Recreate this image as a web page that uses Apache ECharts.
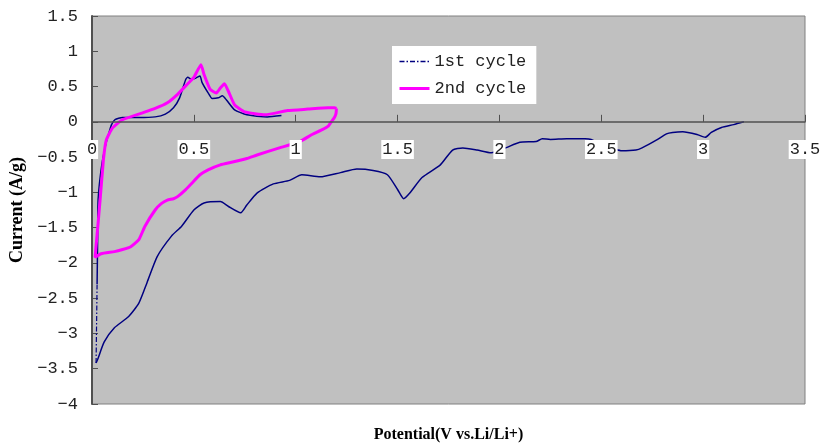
<!DOCTYPE html>
<html>
<head>
<meta charset="utf-8">
<script src="https://cdn.jsdelivr.net/npm/echarts@6/dist/echarts.min.js"></script>
<style>html,body{margin:0;padding:0;background:#fff}#c{width:820px;height:445px}</style>
</head>
<body>
<div id="c"></div>
<script>
// Potential (V) / Current (A/g) pairs
const cycle1Cathodic = [
  [3.20,0.00],[3.15,-0.04],[3.09,-0.08],[3.04,-0.15],[3.01,-0.22],[2.97,-0.18],[2.90,-0.14],[2.85,-0.15],
  [2.82,-0.17],[2.77,-0.26],[2.70,-0.37],[2.67,-0.40],[2.60,-0.41],[2.56,-0.38],[2.52,-0.35],[2.45,-0.25],
  [2.42,-0.24],[2.33,-0.24],[2.25,-0.25],[2.21,-0.24],[2.18,-0.28],[2.10,-0.29],[2.03,-0.37],[1.96,-0.44],
  [1.89,-0.40],[1.82,-0.37],[1.77,-0.40],[1.71,-0.61],[1.62,-0.79],[1.56,-1.01],[1.53,-1.09],[1.50,-0.96],
  [1.45,-0.75],[1.38,-0.69],[1.30,-0.67],[1.22,-0.72],[1.12,-0.78],[1.03,-0.75],[0.97,-0.83],[0.89,-0.88],
  [0.81,-1.01],[0.76,-1.18],[0.73,-1.29],[0.67,-1.20],[0.63,-1.13],[0.55,-1.15],[0.50,-1.25],[0.44,-1.48],
  [0.39,-1.62],[0.32,-1.91],[0.27,-2.28],[0.23,-2.57],[0.18,-2.76],[0.11,-2.92],[0.06,-3.12],[0.03,-3.35],
  [0.02,-3.42]
];
const cycle1Turn = [[0.02,-3.42],[0.025,-2.30]];
const cycle1Anodic = [
  [0.025,-2.30],[0.028,-1.60],[0.03,-1.10],[0.047,-0.63],[0.069,-0.30],[0.085,-0.14],[0.096,-0.04],
  [0.113,0.03],[0.15,0.06],[0.23,0.06],[0.31,0.07],[0.36,0.11],[0.40,0.20],[0.43,0.34],[0.46,0.60],
  [0.47,0.63],[0.49,0.60],[0.51,0.62],[0.53,0.65],[0.54,0.56],[0.57,0.41],[0.59,0.33],[0.62,0.34],
  [0.64,0.37],[0.66,0.31],[0.70,0.17],[0.76,0.10],[0.86,0.07],[0.93,0.09]
];
const cycle2 = [
  [1.20,0.19],[1.198,0.12],[1.19,0.06],[1.175,0.0],[1.16,-0.06],[1.13,-0.11],[1.08,-0.18],[1.02,-0.28],[0.92,-0.37],
  [0.81,-0.47],[0.76,-0.52],[0.69,-0.57],[0.63,-0.61],[0.57,-0.68],[0.53,-0.75],[0.49,-0.87],[0.46,-0.96],
  [0.42,-1.06],[0.40,-1.09],[0.37,-1.11],[0.34,-1.16],[0.31,-1.25],[0.26,-1.48],[0.23,-1.67],[0.19,-1.77],
  [0.15,-1.81],[0.11,-1.84],[0.045,-1.87],[0.015,-1.92],[0.025,-1.60],[0.04,-1.10],[0.056,-0.54],
  [0.07,-0.26],[0.10,-0.09],[0.15,0.03],[0.24,0.12],[0.31,0.19],[0.37,0.27],[0.42,0.39],[0.47,0.54],
  [0.50,0.63],[0.535,0.81],[0.55,0.67],[0.58,0.46],[0.61,0.41],[0.63,0.48],[0.65,0.54],[0.67,0.43],
  [0.70,0.24],[0.75,0.14],[0.85,0.10],[0.96,0.16],[1.06,0.18],[1.16,0.20],[1.19,0.20],[1.20,0.19]
];
const seriesNames = ['1st cycle', '2nd cycle'];
const xTitle = 'Potential(V vs.Li/Li+)';
const yTitle = 'Current (A/g)';

const chart = echarts.init(document.getElementById('c'), null, {renderer: 'canvas'});
const monoFont = '"Liberation Mono", monospace';
const fmt = v => String(v).replace('-', '\u2212');
const hiddenSymbol = {opacity: 0, color: 'rgba(0,0,0,0)', borderWidth: 0};
chart.setOption({
  animation: false,
  grid: {left: 92, top: 16, right: 15, bottom: 41, outerBoundsMode: 'none', containLabel: false,
         show: true, backgroundColor: '#c0c0c0', borderColor: '#808080', borderWidth: 1},
  legend: {
    left: 392, top: 46, orient: 'vertical', backgroundColor: '#fff', padding: [7, 10, 7, 6],
    itemGap: 10, itemWidth: 30, itemHeight: 14,
    textStyle: {fontFamily: monoFont, fontSize: 17, color: '#222'},
    data: [
      {name: seriesNames[0], itemStyle: hiddenSymbol, lineStyle: {color: '#000080', width: 1.5, type: [5, 2, 1.5, 2]}},
      {name: seriesNames[1], itemStyle: hiddenSymbol, lineStyle: {color: '#ff00ff', width: 3}}
    ]
  },
  xAxis: {
    type: 'value', min: 0, max: 3.5, interval: 0.5, z: 10,
    name: xTitle, nameLocation: 'middle', nameGap: 23,
    nameTextStyle: {fontFamily: '"Liberation Serif", serif', fontWeight: 'bold', fontSize: 16, color: '#000'},
    axisLine: {onZero: true, lineStyle: {color: '#505050', width: 1.5}},
    axisTick: {inside: true, length: 7, lineStyle: {color: '#505050'}},
    axisLabel: {fontFamily: monoFont, fontSize: 17, color: '#222', margin: -264, backgroundColor: '#fff', padding: [1, 1], formatter: fmt},
    splitLine: {show: false}
  },
  yAxis: {
    type: 'value', min: -4, max: 1.5, interval: 0.5,
    name: yTitle, nameLocation: 'middle', nameGap: 62,
    nameTextStyle: {fontFamily: '"Liberation Serif", serif', fontWeight: 'bold', fontSize: 18, color: '#000'},
    axisLine: {show: true, onZero: false, lineStyle: {color: '#505050', width: 2}},
    axisTick: {show: true, inside: true, length: 6, lineStyle: {color: '#505050'}},
    axisLabel: {fontFamily: monoFont, fontSize: 17, color: '#222', margin: 14, formatter: fmt},
    splitLine: {show: false}
  },
  series: [
    {name: seriesNames[0], type: 'line', data: cycle1Cathodic, symbol: 'none', smooth: 0.2, lineStyle: {color: '#000080', width: 1.5}, itemStyle: {color: '#000080'}},
    {name: seriesNames[0], type: 'line', data: cycle1Turn, symbol: 'none', lineStyle: {color: '#000080', width: 1.2, type: [5, 2, 1.5, 2]}, itemStyle: {color: '#000080'}},
    {name: seriesNames[0], type: 'line', data: cycle1Anodic, symbol: 'none', smooth: 0.2, lineStyle: {color: '#000080', width: 1.5}, itemStyle: {color: '#000080'}},
    {name: seriesNames[1], type: 'line', data: cycle2, symbol: 'none', smooth: 0.15, lineStyle: {color: '#ff00ff', width: 3}, itemStyle: {color: '#ff00ff'}}
  ]
});
</script>
</body>
</html>
